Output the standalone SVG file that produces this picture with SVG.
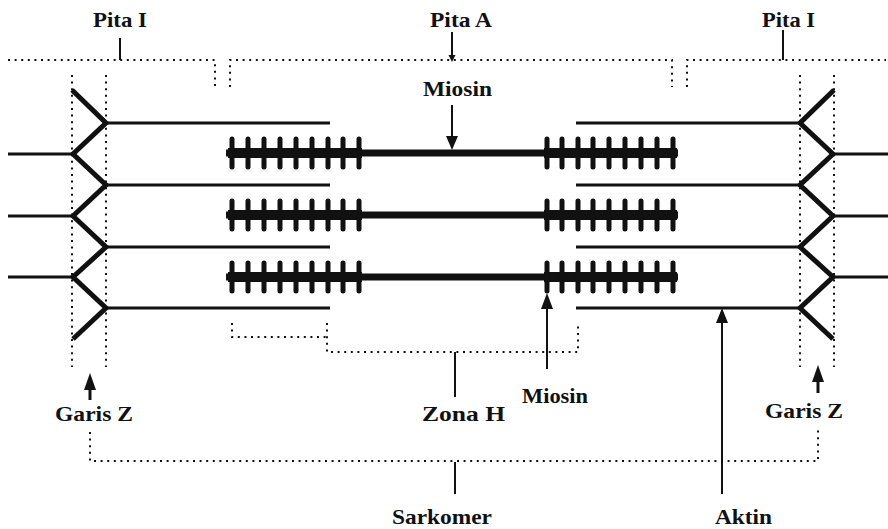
<svg xmlns="http://www.w3.org/2000/svg" width="888" height="529" viewBox="0 0 888 529">
  <defs>
    <style>
      .dot { fill: none; stroke: #111; stroke-width: 2; stroke-dasharray: 2 4.6; }
      .zig { fill: none; stroke: #111; stroke-width: 5; stroke-linejoin: miter; }
      .actin { fill: none; stroke: #111; stroke-width: 3; }
      .thick { fill: none; stroke: #111; stroke-width: 7; }
      .head { fill: none; stroke: #111; stroke-width: 10; }
      .bar { fill: none; stroke: #111; stroke-width: 5; stroke-linecap: round; }
      .tick { fill: none; stroke: #111; stroke-width: 2; }
      .arr { fill: #111; }
      .lbl { font-family: "Liberation Serif", "Times New Roman", serif; font-weight: bold; font-size: 22px; fill: #111; }
    </style>
    <!-- one thick filament with its cross-bridges, centred on y = 0 -->
    <g id="thick-filament">
      <line class="thick" x1="226" y1="0" x2="678" y2="0"/>
      <line class="head" x1="228" y1="0" x2="362" y2="0"/>
      <line class="head" x1="544" y1="0" x2="677" y2="0"/>
      <path class="bar" d="M232,-14V14 M248,-14V14 M264,-14V14 M280,-14V14 M296,-14V14 M312,-14V14 M328,-14V14 M343,-14V14 M359,-14V14
                           M547,-14V14 M562,-14V14 M578,-14V14 M593,-14V14 M609,-14V14 M625,-14V14 M641,-14V14 M657,-14V14 M673,-14V14"/>
    </g>
  </defs>

  <rect width="888" height="529" fill="#fff"/>

  <!-- Z discs -->
  <g id="z-line-left">
    <line class="dot" x1="72" y1="75" x2="72" y2="367"/>
    <line class="dot" x1="106" y1="75" x2="106" y2="367"/>
    <polyline class="zig" points="72,90 106,123 73,154 106,185 73,216 106,247 73,277 106,308 73,339"/>
    <path class="actin" d="M8,154H73 M8,216H73 M8,277H73"/>
  </g>
  <g id="z-line-right">
    <line class="dot" x1="800" y1="75" x2="800" y2="367"/>
    <line class="dot" x1="834" y1="75" x2="834" y2="367"/>
    <polyline class="zig" points="834,90 800,123 833,154 800,185 833,216 800,247 833,277 800,308 833,339"/>
    <path class="actin" d="M833,154H888 M833,216H888 M833,277H888"/>
  </g>

  <!-- thin (actin) filaments -->
  <g id="actin">
    <path class="actin" d="M106,123H330 M106,185H330 M106,247H330 M106,308H330"/>
    <path class="actin" d="M576,123H800 M576,185H800 M576,247H800 M576,308H800"/>
  </g>

  <!-- thick (myosin) filaments -->
  <g id="myosin">
    <use href="#thick-filament" y="153"/>
    <use href="#thick-filament" y="215"/>
    <use href="#thick-filament" y="277"/>
  </g>

  <!-- band brackets and pointers -->
  <g id="connectors">
    <path class="dot" d="M8,60H215V87 M230,87V60H672V87 M687,87V60H886"/>
    <line class="tick" x1="120" y1="38" x2="120" y2="60"/>
    <line class="tick" x1="783" y1="30" x2="783" y2="60"/>
    <line class="tick" x1="452" y1="32" x2="452" y2="58"/>
    <polygon class="arr" points="448.5,55 455.5,55 452,62"/>

    <line class="tick" x1="452" y1="105" x2="452" y2="140"/>
    <polygon class="arr" points="446,136 458,136 452,150"/>

    <path class="dot" d="M232,323V337H327 M327,323V352H578V322"/>
    <line class="tick" x1="455" y1="352" x2="455" y2="397"/>

    <line class="tick" x1="547" y1="306" x2="547" y2="369"/>
    <polygon class="arr" points="541,309 553,309 547,293"/>

    <line class="tick" x1="722" y1="321" x2="722" y2="494"/>
    <polygon class="arr" points="716,323 728,323 722,308"/>

    <line x1="90" y1="388" x2="90" y2="400" stroke="#111" stroke-width="3"/>
    <polygon class="arr" points="84,390 96,390 90,373"/>
    <line x1="818" y1="380" x2="818" y2="393" stroke="#111" stroke-width="3"/>
    <polygon class="arr" points="812,382 824,382 818,365"/>

    <path class="dot" d="M90,432V461H818V428"/>
    <line class="tick" x1="455" y1="462" x2="455" y2="494"/>
  </g>

  <!-- labels -->
  <g id="labels">
    <text class="lbl" x="93" y="27" textLength="54" lengthAdjust="spacingAndGlyphs">Pita I</text>
    <text class="lbl" x="430" y="27" textLength="62" lengthAdjust="spacingAndGlyphs">Pita A</text>
    <text class="lbl" x="762" y="27" textLength="53" lengthAdjust="spacingAndGlyphs">Pita I</text>
    <text class="lbl" x="423" y="96" textLength="69" lengthAdjust="spacingAndGlyphs">Miosin</text>
    <text class="lbl" x="522" y="403" textLength="66" lengthAdjust="spacingAndGlyphs">Miosin</text>
    <text class="lbl" x="55" y="421" textLength="78" lengthAdjust="spacingAndGlyphs">Garis Z</text>
    <text class="lbl" x="422" y="421" textLength="83" lengthAdjust="spacingAndGlyphs">Zona H</text>
    <text class="lbl" x="765" y="418" textLength="78" lengthAdjust="spacingAndGlyphs">Garis Z</text>
    <text class="lbl" x="392" y="524" textLength="100" lengthAdjust="spacingAndGlyphs">Sarkomer</text>
    <text class="lbl" x="715" y="524" textLength="57" lengthAdjust="spacingAndGlyphs">Aktin</text>
  </g>
</svg>
